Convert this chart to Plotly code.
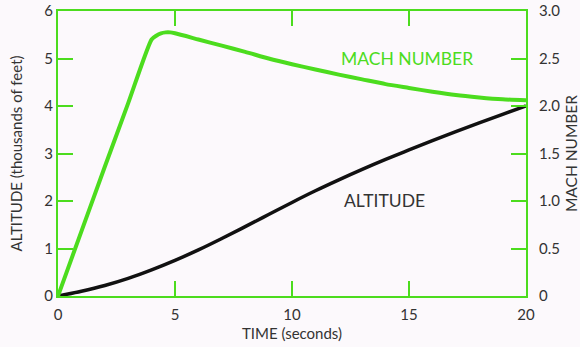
import plotly.graph_objects as go

# Data
time_mach = [0, 1, 2, 3, 4.0, 4.2, 4.4, 4.6, 4.8, 5.0, 6, 7, 8, 9, 10, 11, 12, 13, 14, 15, 16, 17, 18, 19, 20]
mach = [0, 0.68, 1.36, 2.03, 2.70, 2.74, 2.765, 2.775, 2.775, 2.765, 2.70, 2.635, 2.57, 2.50, 2.44, 2.385, 2.33, 2.28, 2.23, 2.19, 2.15, 2.115, 2.09, 2.07, 2.06]

time_alt = [0, 1, 2, 3, 4, 5, 6, 7, 8, 9, 10, 11, 12, 13, 14, 15, 16, 17, 18, 19, 20]
altitude = [0, 0.10, 0.22, 0.37, 0.55, 0.75, 0.97, 1.21, 1.46, 1.715, 1.97, 2.215, 2.445, 2.665, 2.875, 3.075, 3.27, 3.46, 3.645, 3.825, 4.00]

x_ticks = [0, 5, 10, 15, 20]
alt_ticks = [0, 1, 2, 3, 4, 5, 6]
mach_ticks = [0, 0.5, 1.0, 1.5, 2.0, 2.5, 3.0]
mach_tick_text = ["0", "0.5", "1.0", "1.5", "2.0", "2.5", "3.0"]

GREEN = "#4cdc1e"
TEXT = "#333333"
FONT = "Lato"

fig = go.Figure()
fig.add_trace(go.Scatter(x=time_alt, y=altitude, mode="lines",
                         line=dict(color="#111111", width=3.5, shape="spline"),
                         yaxis="y", showlegend=False))
fig.add_trace(go.Scatter(x=time_mach, y=mach, mode="lines",
                         line=dict(color=GREEN, width=4, shape="spline", smoothing=0.6),
                         yaxis="y2", showlegend=False))

fig.update_layout(
    width=580, height=347,
    margin=dict(l=58, r=54, t=11, b=51),
    paper_bgcolor="#fcf9fc", plot_bgcolor="#fcf9fc",
    font=dict(family=FONT, size=15, color=TEXT),
    xaxis=dict(range=[0, 20], tickvals=x_ticks, ticks="inside", ticklen=15, tickwidth=2,
               tickcolor=GREEN, showline=True, linecolor=GREEN, linewidth=2, mirror="ticks",
               showgrid=False, zeroline=False, automargin=False, ticklabelstandoff=4,
               title=dict(text="TIME (seconds)", standoff=6, font=dict(size=15, color=TEXT))),
    yaxis=dict(range=[0, 6], tickvals=alt_ticks, ticks="inside", ticklen=15, tickwidth=2,
               tickcolor=GREEN, showline=True, linecolor=GREEN, linewidth=2, mirror="ticks",
               showgrid=False, zeroline=False, automargin=False, ticklabelstandoff=0,
               title=dict(text="ALTITUDE (thousands of feet)", standoff=18, font=dict(size=15, color=TEXT))),
    yaxis2=dict(range=[0, 3], tickvals=mach_ticks, ticktext=mach_tick_text, overlaying="y",
                side="right", ticks="", showline=False, showgrid=False, zeroline=False,
                automargin=False, ticklabelstandoff=12,
                title=dict(text="MACH NUMBER", standoff=6, font=dict(size=15.5, color=TEXT))),
    annotations=[
        dict(x=14.9, y=2.5, yref="y2", xref="x", text="MACH NUMBER", showarrow=False,
             font=dict(size=17.5, color=GREEN, family=FONT)),
        dict(x=13.97, y=2.02, yref="y", xref="x", text="ALTITUDE", showarrow=False,
             font=dict(size=17.5, color=TEXT, family=FONT)),
    ],
)

fig.write_html("out.html", config={"displayModeBar": False},
               post_script="document.body.style.margin='0';")
